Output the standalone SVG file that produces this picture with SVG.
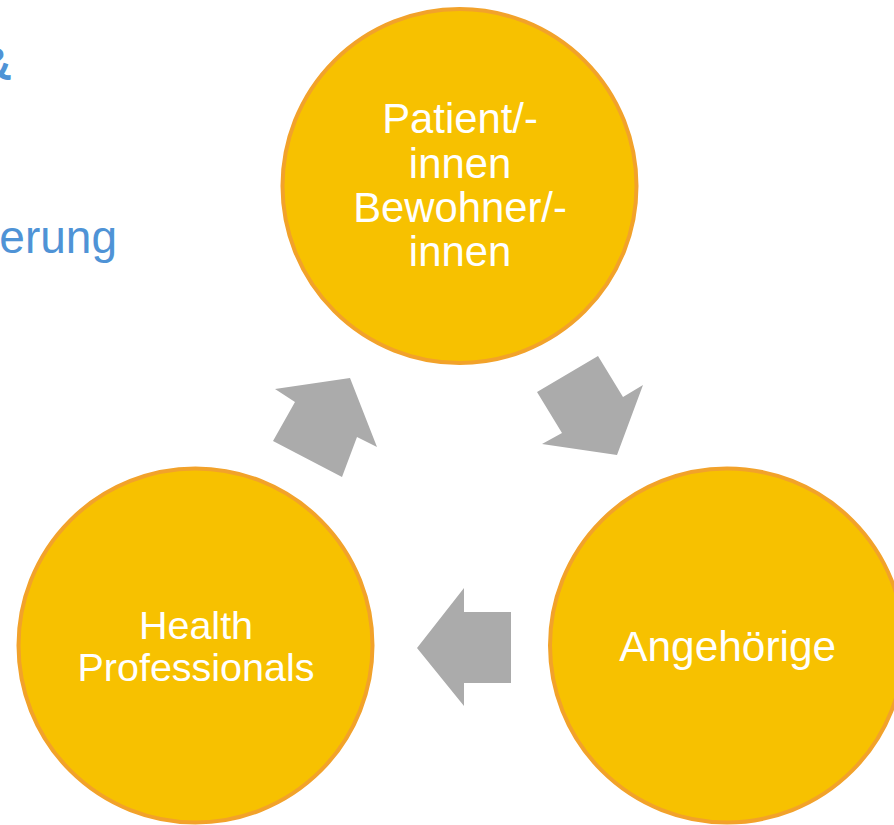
<svg xmlns="http://www.w3.org/2000/svg" width="894" height="825" viewBox="0 0 894 825">
  <style>
    .node circle { fill: #F7C100; stroke: #F2A22A; stroke-width: 4; }
    .node text { fill: #FFFFFF; font-family: "Liberation Sans", Arial, sans-serif; text-anchor: middle; }
    .arrow { fill: #ABABAB; }
    .bg { fill: #4F93D6; font-family: "Liberation Sans", Arial, sans-serif; }
  </style>
  <rect width="894" height="825" fill="#FFFFFF"/>
  <g id="background-text">
    <text class="bg" x="12" y="80" font-size="46" font-weight="bold" text-anchor="end">&amp;</text>
    <text class="bg" x="117" y="253" font-size="46" text-anchor="end">erung</text>
  </g>
  <g id="connectors">
    <polygon class="arrow" points="273,441 295,402 275,389 350,378 377,447 357,437 342,477"/>
    <polygon class="arrow" points="598,356 623,397 643,385 617,455 542,444 562,433 537,392"/>
    <polygon class="arrow" points="417,648 464,588 464,612 511,612 511,683 464,683 464,706"/>
  </g>
  <g id="node-patients" class="node">
    <circle cx="459.5" cy="186" r="177"/>
    <text font-size="41.8" x="460" y="133">Patient/-</text>
    <text font-size="41.8" x="460" y="177.5">innen</text>
    <text font-size="41.8" x="460" y="221.5">Bewohner/-</text>
    <text font-size="41.8" x="460" y="265.5">innen</text>
  </g>
  <g id="node-angehoerige" class="node">
    <circle cx="727" cy="645.5" r="177"/>
    <text font-size="42.4" x="727.7" y="660.5">Angehörige</text>
  </g>
  <g id="node-health" class="node">
    <circle cx="195.5" cy="645.5" r="177"/>
    <text font-size="39.5" x="196" y="639">Health</text>
    <text font-size="39.5" x="196" y="680.5">Professionals</text>
  </g>
</svg>
